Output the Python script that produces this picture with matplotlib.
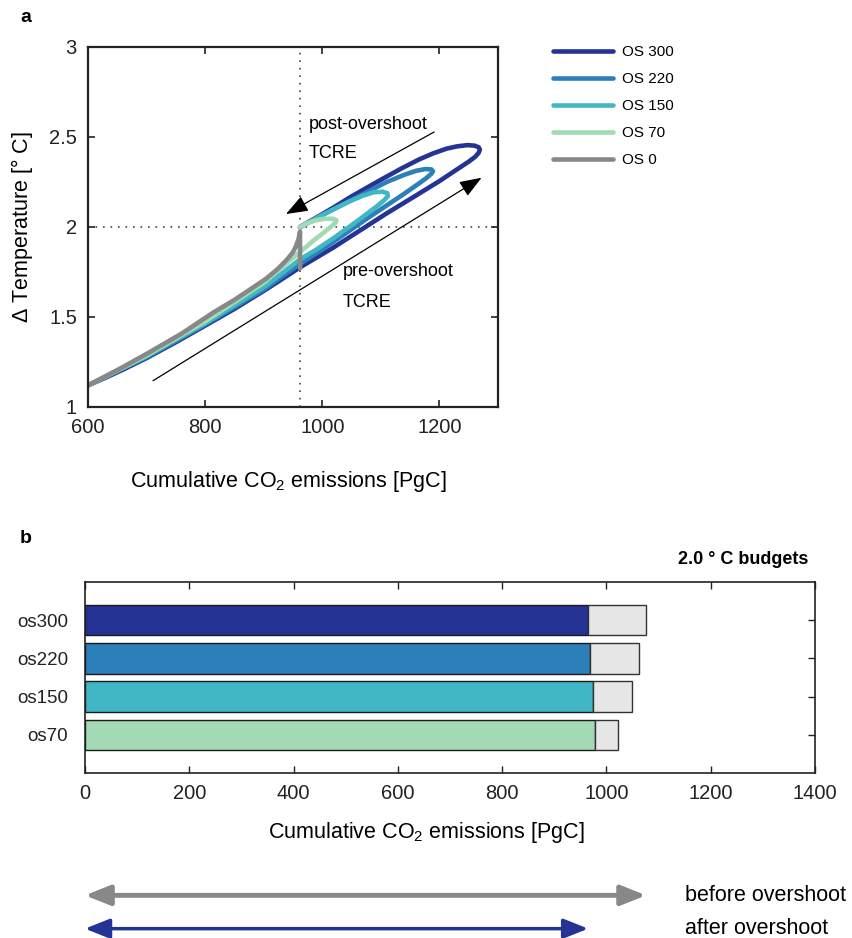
import matplotlib
matplotlib.use('Agg')
import matplotlib.pyplot as plt

plt.rcParams['font.family'] = ['Liberation Sans', 'DejaVu Sans']
plt.rcParams['mathtext.fontset'] = 'custom'
plt.rcParams['mathtext.rm'] = 'Liberation Sans'

# panel a: warming vs cumulative emissions
os300_x = [600, 630, 660, 700, 750, 800, 850, 900, 930, 962, 990, 1019, 1064, 1110, 1155, 1200,
           1230, 1250, 1261, 1267, 1269, 1267, 1260, 1248, 1230, 1212, 1190, 1165, 1135, 1107,
           1078, 1050, 1020, 995, 975, 962]
os300_y = [1.12, 1.163, 1.208, 1.272, 1.36, 1.452, 1.545, 1.645, 1.708, 1.776, 1.83, 1.886, 1.98,
           2.076, 2.165, 2.255, 2.32, 2.363, 2.39, 2.412, 2.43, 2.443, 2.452, 2.455, 2.448, 2.435,
           2.41, 2.375, 2.325, 2.275, 2.222, 2.17, 2.11, 2.062, 2.025, 1.998]

os220_x = [600, 700, 800, 900, 962, 1000, 1040, 1080, 1110, 1140, 1162, 1177, 1186, 1189, 1186,
           1176, 1160, 1140, 1110, 1080, 1050, 1020, 990, 970, 962]
os220_y = [1.12, 1.277, 1.458, 1.652, 1.795, 1.875, 1.965, 2.055, 2.12, 2.185, 2.235, 2.27, 2.295,
           2.31, 2.32, 2.322, 2.312, 2.29, 2.25, 2.2, 2.15, 2.1, 2.05, 2.015, 2.0]

os150_x = [600, 700, 800, 900, 962, 990, 1020, 1050, 1075, 1095, 1106, 1112, 1111, 1103, 1088,
           1070, 1045, 1020, 995, 975, 962]
os150_y = [1.12, 1.282, 1.465, 1.665, 1.82, 1.875, 1.94, 2.01, 2.07, 2.12, 2.15, 2.172, 2.188,
           2.196, 2.193, 2.175, 2.14, 2.1, 2.058, 2.022, 2.0]

os70_x = [600, 700, 800, 900, 936, 962, 985, 1003, 1016, 1023, 1024, 1018, 1005, 990, 975, 962]
os70_y = [1.12, 1.287, 1.475, 1.69, 1.79, 1.86, 1.925, 1.97, 2.005, 2.025, 2.038, 2.046, 2.046,
          2.038, 2.022, 2.0]

os0_x = [600, 650, 700, 760, 814, 850, 880, 905, 925, 940, 950, 956, 960, 962, 962]
os0_y = [1.12, 1.205, 1.295, 1.408, 1.525, 1.595, 1.66, 1.715, 1.77, 1.82, 1.86, 1.9, 1.94, 1.975,
         1.77]

series_x = [os300_x, os220_x, os150_x, os70_x, os0_x]
series_y = [os300_y, os220_y, os150_y, os70_y, os0_y]
names = ['OS 300', 'OS 220', 'OS 150', 'OS 70', 'OS 0']
colors = ['#253494', '#2c7fb8', '#41b6c4', '#a1dab4', '#888888']

budget_2c = 962
target_t = 2.0

# panel b: 2.0 C budgets
scen_b = ['os300', 'os220', 'os150', 'os70']
after_os = [965, 969, 974, 978]
before_os = [1076, 1063, 1049, 1022]

W, H = 852, 938
fig = plt.figure(figsize=(W / 100, H / 100), dpi=100)

# ---------------- panel a
ax = fig.add_axes([88 / W, 1 - 407 / H, 410 / W, 360 / H])
ax.axvline(budget_2c, color='#444444', ls=(0, (1, 3.5)), lw=1.2, zorder=1)
ax.axhline(target_t, color='#444444', ls=(0, (1, 3.5)), lw=1.2, zorder=1)
for xs, ys, c, n in zip(series_x, series_y, colors, names):
    ax.plot(xs, ys, color=c, lw=3.3, label=n, solid_joinstyle='round', solid_capstyle='round')

arr = dict(arrowstyle='-|>,head_length=0.8,head_width=0.3', color='k', lw=0.9,
           mutation_scale=17, shrinkA=0, shrinkB=0)
ax.annotate('', xy=(938, 2.072), xytext=(1191, 2.528), arrowprops=arr)
ax.annotate('', xy=(1272, 2.274), xytext=(711, 1.146), arrowprops=arr)
ax.text(977, 2.572, 'post-overshoot', fontsize=13, va='center')
ax.text(977, 2.411, 'TCRE', fontsize=13, va='center')
ax.text(1035, 1.75, 'pre-overshoot', fontsize=13, va='center')
ax.text(1035, 1.583, 'TCRE', fontsize=13, va='center')

ax.set_xlim(600, 1300)
ax.set_ylim(1, 3)
ax.set_xticks([600, 800, 1000, 1200])
ax.set_yticks([1, 1.5, 2, 2.5, 3], ['1', '1.5', '2', '2.5', '3'])
ax.tick_params(direction='in', top=True, right=True, length=5, width=1.2,
               labelsize=14.5, pad=8, colors='#222222')
for s in ax.spines.values():
    s.set_linewidth(1.6)
    s.set_color('#222222')
ax.set_xlabel('Cumulative CO$_{\\mathregular{2}}$ emissions [PgC]', fontsize=15.5, labelpad=23)
ax.xaxis.label.set_x((288 - 88) / 410)
ax.set_ylabel('$\\mathregular{\\Delta}$ Temperature [° C]', fontsize=15.5, labelpad=10)

ax.legend(loc='upper left', bbox_to_anchor=(553 / W, 1 - 45 / H), bbox_transform=fig.transFigure,
          frameon=False, fontsize=11, handlelength=3.9, handletextpad=0.6, labelspacing=0.85,
          borderpad=0, borderaxespad=0)

fig.text(20 / W, 1 - 18 / H, 'a', fontsize=14, fontweight='bold', va='center')

# ---------------- panel b
bx = fig.add_axes([85 / W, 1 - 773 / H, 730 / W, 191 / H])
ypos = [4, 3, 2, 1]
bx.barh(ypos, after_os, height=0.8, color=colors[:4], edgecolor='#1a1a1a', lw=1)
bx.barh(ypos, [b - a for a, b in zip(after_os, before_os)], left=after_os, height=0.8,
        color='#e6e6e6', edgecolor='#333333', lw=1)
bx.set_xlim(0, 1400)
bx.set_ylim(0, 5)
bx.set_xticks(range(0, 1401, 200))
bx.set_yticks(ypos, scen_b)
bx.tick_params(direction='in', top=True, right=True, left=False, length=5, width=1,
               labelsize=14.5, pad=8, colors='#222222')
bx.tick_params(axis='y', pad=12, labelsize=13.5)
for s in bx.spines.values():
    s.set_linewidth(1.2)
    s.set_color('#222222')
bx.set_xlabel('Cumulative CO$_{\\mathregular{2}}$ emissions [PgC]', fontsize=15.5, labelpad=12)
bx.xaxis.label.set_x((426 - 85) / 730)
bx.text(1.0 - 7 / 730, 1 + 22 / 191, '2.0 ° C budgets', transform=bx.transAxes, ha='right',
        va='center', fontsize=13, fontweight='bold')
fig.text(20 / W, 1 - 538 / H, 'b', fontsize=14, fontweight='bold', va='center')

# ---------------- arrows under panel b
cx = fig.add_axes([85 / W, -4 / H, 730 / W, 60 / H])
cx.set_xlim(0, 1400)
cx.set_ylim(-0.4, 1.4)
cx.axis('off')
cx.annotate('', xy=(before_os[0], 1), xytext=(0, 1),
            arrowprops=dict(arrowstyle='<|-|>,head_length=0.75,head_width=0.3', color='#888888',
                            lw=3.5, mutation_scale=20, shrinkA=0, shrinkB=0))
cx.annotate('', xy=(after_os[0], 0), xytext=(0, 0),
            arrowprops=dict(arrowstyle='<|-|>,head_length=0.75,head_width=0.3', color='#253494',
                            lw=2.5, mutation_scale=20, shrinkA=0, shrinkB=0))
cx.text(1150, 1, 'before overshoot', fontsize=15.5, va='center')
cx.text(1150, 0, 'after overshoot', fontsize=15.5, va='center')

fig.savefig('out.png', dpi=100)
